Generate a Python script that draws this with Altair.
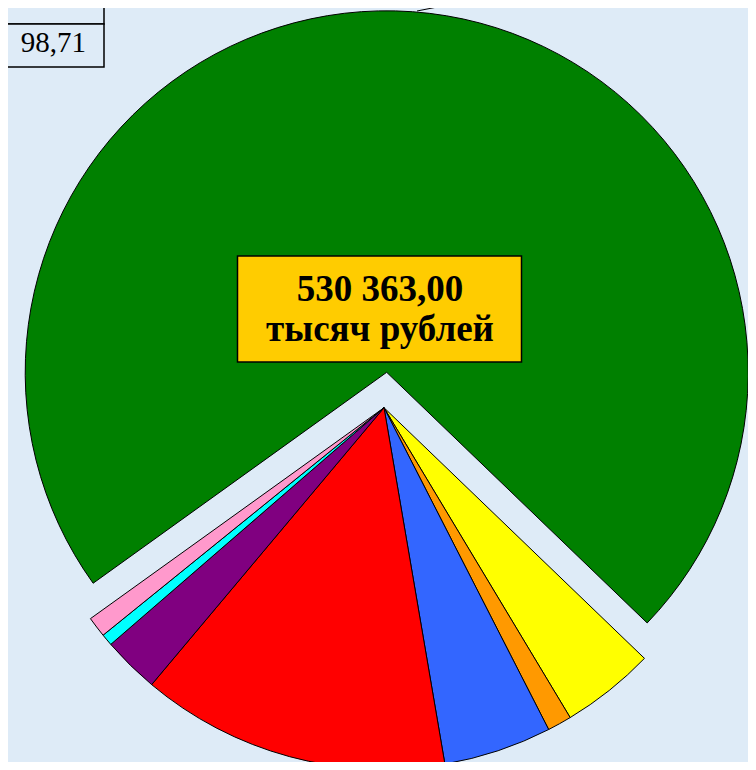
import math
import altair as alt
import pandas as pd

# Slices in drawing order (clockwise, starting at the yellow slice)
names = ["Жёлтый", "Оранжевый", "Синий", "Красный", "Фиолетовый", "Бирюзовый", "Розовый", "Зелёный"]
values = [22246.0, 5746.0, 25634.0, 73220.0, 13406.0, 2799.0, 4862.0, 382450.0]
colors = ["#FFFF00", "#FF9900", "#3366FF", "#FF0000", "#800080", "#00FFFF", "#FF99CC", "#008000"]
exploded = "Зелёный"

total_label = ["530 363,00", "тысяч рублей"]
table_value = "98,71"

df = pd.DataFrame({"name": names, "value": values, "order": list(range(len(names)))})

start = math.radians(133.9)
R = 361.5
cx, cy = 376, 399.7
ex, ey = 378.7, 364.3

base = alt.Chart(df).encode(
    theta=alt.Theta("value:Q", stack=True,
                    scale=alt.Scale(range=[start, start + 2 * math.pi])),
    order=alt.Order("order:Q"),
    color=alt.Color("name:N", scale=alt.Scale(domain=names, range=colors), legend=None),
)

rest = base.mark_arc(radius=R, stroke="black", strokeWidth=1).encode(
    x=alt.value(cx), y=alt.value(cy),
    opacity=alt.condition(alt.datum.name == exploded, alt.value(0), alt.value(1)),
)
green = base.mark_arc(radius=R, stroke="black", strokeWidth=1).encode(
    x=alt.value(ex), y=alt.value(ey),
    opacity=alt.condition(alt.datum.name == exploded, alt.value(1), alt.value(0)),
)

one = pd.DataFrame({"a": [0]})

box = alt.Chart(one).mark_rect(fill="#FFCC00", stroke="black", strokeWidth=1.5).encode(
    x=alt.value(229.5), x2=alt.value(513.5), y=alt.value(248), y2=alt.value(354)
)
t1 = alt.Chart(one).mark_text(
    text=total_label[0], font="Liberation Serif", fontWeight="bold", fontSize=37,
    align="center", baseline="alphabetic", color="black"
).encode(x=alt.value(372), y=alt.value(292.5))
t2 = alt.Chart(one).mark_text(
    text=total_label[1], font="Liberation Serif", fontWeight="bold", fontSize=37,
    align="center", baseline="alphabetic", color="black"
).encode(x=alt.value(372), y=alt.value(333))

cell_top = alt.Chart(one).mark_rect(fill="#DEEBF7", stroke="black", strokeWidth=1.5).encode(
    x=alt.value(-10), x2=alt.value(96), y=alt.value(-20), y2=alt.value(16)
)
cell = alt.Chart(one).mark_rect(fill="#DEEBF7", stroke="black", strokeWidth=1.5).encode(
    x=alt.value(-10), x2=alt.value(96), y=alt.value(16), y2=alt.value(59)
)
cell_text = alt.Chart(one).mark_text(
    text=table_value, font="Liberation Serif", fontSize=29,
    align="right", baseline="alphabetic", color="black"
).encode(x=alt.value(78), y=alt.value(44))

leader = alt.Chart(one).mark_rule(color="black", strokeWidth=1).encode(
    x=alt.value(409), x2=alt.value(475), y=alt.value(3), y2=alt.value(-10)
)

chart = alt.layer(rest, green, box, t1, t2, cell_top, cell, cell_text, leader).properties(
    width=740, height=754,
    autosize=alt.AutoSizeParams(type="none"),
    padding=0,
    background="#DEEBF7",
).configure_view(stroke=None)

chart.save("out.html", embed_options={"renderer": "svg", "actions": False})
